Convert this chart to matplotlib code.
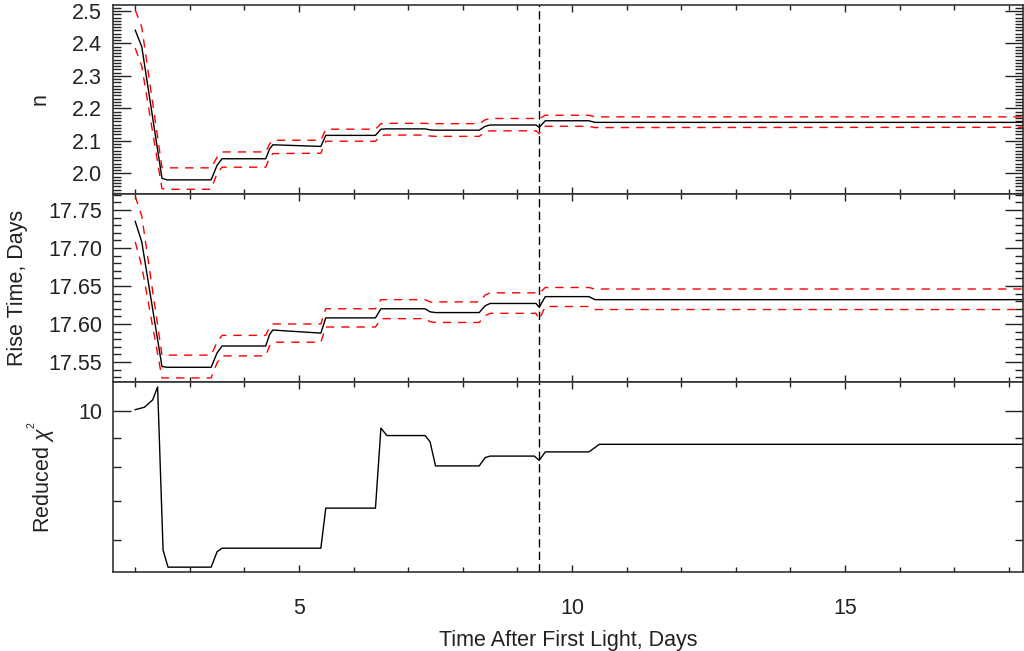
import numpy as np
import matplotlib
matplotlib.use("Agg")
import matplotlib.pyplot as plt
from matplotlib.ticker import MultipleLocator, FixedLocator, NullFormatter

plt.rcParams['font.family'] = ['Liberation Sans', 'DejaVu Sans']
plt.rcParams['mathtext.fontset'] = 'custom'
plt.rcParams['mathtext.it'] = 'Liberation Sans:italic'
plt.rcParams['mathtext.rm'] = 'Liberation Sans'

# time knots (days after first light)
t = [2.0, 2.12, 2.49, 2.58, 3.39, 3.50, 3.59, 4.39, 4.46, 4.52, 5.40, 5.49, 6.40, 6.50,
     6.60, 7.31, 7.40, 7.50, 8.30, 8.41, 8.50, 9.34, 9.40, 9.51, 10.31, 10.42, 10.50, 18.3]

n_best = [2.441, 2.39, 1.985, 1.980, 1.980, 2.025, 2.045, 2.045, 2.075, 2.088, 2.083, 2.117, 2.117, 2.136,
          2.137, 2.137, 2.134, 2.133, 2.133, 2.145, 2.149, 2.149, 2.142, 2.162, 2.162, 2.157, 2.157, 2.157]
n_hi = [2.503, 2.45, 2.018, 2.017, 2.017, 2.050, 2.066, 2.066, 2.090, 2.102, 2.102, 2.136, 2.136, 2.153,
        2.154, 2.154, 2.153, 2.153, 2.153, 2.165, 2.169, 2.169, 2.168, 2.179, 2.179, 2.174, 2.174, 2.174]
n_lo = [2.386, 2.33, 1.953, 1.951, 1.951, 2.000, 2.019, 2.019, 2.048, 2.061, 2.062, 2.099, 2.099, 2.117,
        2.118, 2.118, 2.115, 2.114, 2.114, 2.127, 2.131, 2.131, 2.122, 2.145, 2.145, 2.141, 2.141, 2.142]

rt_best = [17.735, 17.708, 17.544, 17.543, 17.543, 17.562, 17.571, 17.571, 17.586, 17.592, 17.588, 17.608,
           17.608, 17.620, 17.620, 17.620, 17.616, 17.615, 17.615, 17.624, 17.627, 17.627, 17.622, 17.636,
           17.636, 17.632, 17.632, 17.632]
rt_hi = [17.768, 17.742, 17.559, 17.559, 17.559, 17.576, 17.585, 17.585, 17.596, 17.600, 17.600, 17.620,
         17.620, 17.632, 17.632, 17.632, 17.629, 17.629, 17.629, 17.638, 17.641, 17.641, 17.640, 17.648,
         17.648, 17.646, 17.646, 17.646]
rt_lo = [17.708, 17.676, 17.529, 17.529, 17.529, 17.549, 17.558, 17.558, 17.571, 17.576, 17.576, 17.596,
         17.596, 17.607, 17.607, 17.607, 17.603, 17.602, 17.602, 17.611, 17.614, 17.614, 17.606, 17.623,
         17.623, 17.619, 17.619, 17.619]

chi_t = [2.0, 2.17, 2.32, 2.41, 2.51, 2.60, 3.39, 3.50, 3.59, 5.40, 5.49, 6.40, 6.50, 6.61, 7.31,
         7.40, 7.50, 8.30, 8.41, 8.50, 9.31, 9.40, 9.51, 10.31, 10.50, 18.3]
chi = [10.05, 10.15, 10.45, 11.0, 5.76, 5.38, 5.38, 5.72, 5.80, 5.80, 6.80, 6.80, 9.34, 9.07, 9.07,
       8.85, 8.04, 8.04, 8.31, 8.36, 8.36, 8.22, 8.50, 8.50, 8.76, 8.76]

t_mark = 9.39

FS = 15.5
W, H = 1024, 651
fig = plt.figure(figsize=(W / 100, H / 100), dpi=100)
left = 113 / W
width = (1023 - 113) / W
def ypos(top, bot):
    return [left, 1 - bot / H, width, (bot - top) / H]

ax1 = fig.add_axes(ypos(5, 193.5))
ax2 = fig.add_axes(ypos(193.5, 381.5))
ax3 = fig.add_axes(ypos(381.5, 571.5))

red_dash = dict(color='red', lw=1.0, ls=(0, (6, 5)))
ax1.plot(t, n_hi, **red_dash)
ax1.plot(t, n_lo, **red_dash)
ax1.plot(t, n_best, color='black', lw=1.0)
ax2.plot(t, rt_hi, **red_dash)
ax2.plot(t, rt_lo, **red_dash)
ax2.plot(t, rt_best, color='black', lw=1.0)
ax3.plot(chi_t, chi, color='black', lw=1.0)
ax3.set_yscale('log')

ax1.set_ylim(1.938, 2.5185)
ax2.set_ylim(17.5243, 17.7717)
ax3.set_ylim(5.288, 11.24)

for ax in (ax1, ax2, ax3):
    ax.axvline(t_mark, color='black', lw=1.0, ls=(0, (6, 3)))
    ax.set_xlim(1.593, 18.26)
    ax.xaxis.set_major_locator(MultipleLocator(5))
    ax.xaxis.set_minor_locator(MultipleLocator(1))
    ax.tick_params(axis='both', which='both', direction='in', top=True, right=True,
                   labelsize=FS, colors='#222222', width=1.0)
    ax.tick_params(axis='x', which='major', length=5, pad=19)
    ax.tick_params(axis='x', which='minor', length=3.5)
    ax.tick_params(axis='y', which='major', length=13, pad=8)
    ax.tick_params(axis='y', which='minor', length=6)
    for s in ax.spines.values():
        s.set_color('#333333')
        s.set_linewidth(1.2)

ax1.tick_params(labelbottom=False)
ax2.tick_params(labelbottom=False)

ax1.yaxis.set_major_locator(FixedLocator([2.0, 2.1, 2.2, 2.3, 2.4, 2.5]))
ax1.yaxis.set_major_formatter(plt.FuncFormatter(lambda v, p: f"{v:.1f}"))
ax1.yaxis.set_minor_locator(MultipleLocator(0.01))

ax2.yaxis.set_major_locator(FixedLocator([17.55, 17.60, 17.65, 17.70, 17.75]))
ax2.yaxis.set_major_formatter(plt.FuncFormatter(lambda v, p: f"{v:.2f}"))
ax2.yaxis.set_minor_locator(MultipleLocator(0.01))

ax3.yaxis.set_major_locator(FixedLocator([10]))
ax3.yaxis.set_major_formatter(plt.FuncFormatter(lambda v, p: "10"))
ax3.yaxis.set_minor_locator(FixedLocator([6, 7, 8, 9]))
ax3.yaxis.set_minor_formatter(NullFormatter())

ax1.set_ylabel('n', fontsize=FS, color='#222222')
ax1.yaxis.set_label_coords(-0.069, 0.5)
ax2.set_ylabel('Rise Time, Days', fontsize=FS, color='#222222')
ax2.yaxis.set_label_coords(-0.093, 0.5)
ax3.set_ylabel(r'Reduced $\chi^{^2}$', fontsize=FS, color='#222222')
ax3.yaxis.set_label_coords(-0.062, 0.5)
ax3.set_xlabel('Time After First Light, Days', fontsize=FS, color='#222222', labelpad=8)

fig.savefig('out.png', dpi=100)
